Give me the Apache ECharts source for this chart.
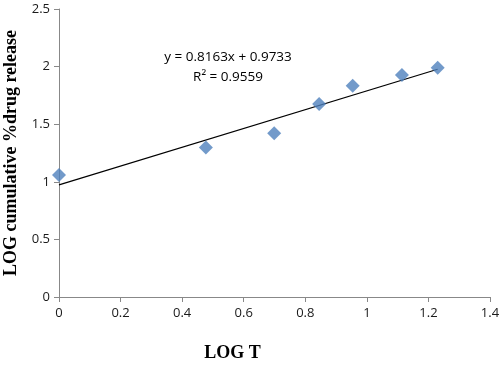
<!DOCTYPE html>
<html><head><meta charset="utf-8">
<script src="https://cdn.jsdelivr.net/npm/echarts@6/dist/echarts.min.js"></script>
<style>html,body{margin:0;padding:0;background:#fff}#c{width:500px;height:367px}</style>
</head><body><div id="c"></div>
<script>
const logT = [0, 0.477, 0.699, 0.845, 0.954, 1.114, 1.230];
const logRelease = [1.06, 1.297, 1.422, 1.676, 1.833, 1.928, 1.991];
const slope = 0.8163, intercept = 0.9733;
const trendX = [0, 1.230];
const eqText = ['y = 0.8163x + 0.9733', 'R² = 0.9559'];

const chart = echarts.init(document.getElementById('c'));
const axisLabel = {color:'#1a1a1a', fontFamily:'Open Sans, sans-serif', fontSize:13};
chart.setOption({
  animation:false,
  grid:{left:59, right:10, top:9, bottom:70, outerBoundsMode:'none', containLabel:false},
  xAxis:{type:'value', min:0, max:1.4, interval:0.2,
    name:'LOG T', nameLocation:'middle', nameGap:47,
    nameTextStyle:{fontFamily:'Liberation Serif, serif', fontWeight:'bold', fontSize:18, color:'#000', padding:[0,84,0,0]},
    axisLine:{show:true, lineStyle:{color:'#888'}}, axisTick:{show:true, length:5, lineStyle:{color:'#888'}},
    splitLine:{show:false}, axisLabel:{...axisLabel, margin:10, formatter:v=>String(+v.toFixed(1))}},
  yAxis:{type:'value', min:0, max:2.5, interval:0.5,
    name:'LOG cumulative %drug release', nameLocation:'middle', nameGap:37,
    nameTextStyle:{fontFamily:'Liberation Serif, serif', fontWeight:'bold', fontSize:18, color:'#000'},
    axisLine:{show:true, lineStyle:{color:'#888'}}, axisTick:{show:true, length:5, lineStyle:{color:'#888'}},
    splitLine:{show:false}, axisLabel:{...axisLabel, margin:9, formatter:v=>String(+v.toFixed(1))}},
  series:[
    {type:'line', data:trendX.map(x=>[x, slope*x+intercept]), symbol:'none',
     lineStyle:{color:'#000', width:1.2}, z:1, silent:true},
    {type:'scatter', data:logT.map((x,i)=>[x, logRelease[i]]), symbol:'diamond', symbolSize:14,
     itemStyle:{color:'#4F81BD'}, z:2}
  ],
  graphic:[
    {type:'text', x:228, y:47, style:{text:eqText.join('\n'), font:'13.5px "Open Sans", sans-serif', fill:'#000', align:'center', verticalAlign:'top', lineHeight:20}}
  ]
});
</script></body></html>
